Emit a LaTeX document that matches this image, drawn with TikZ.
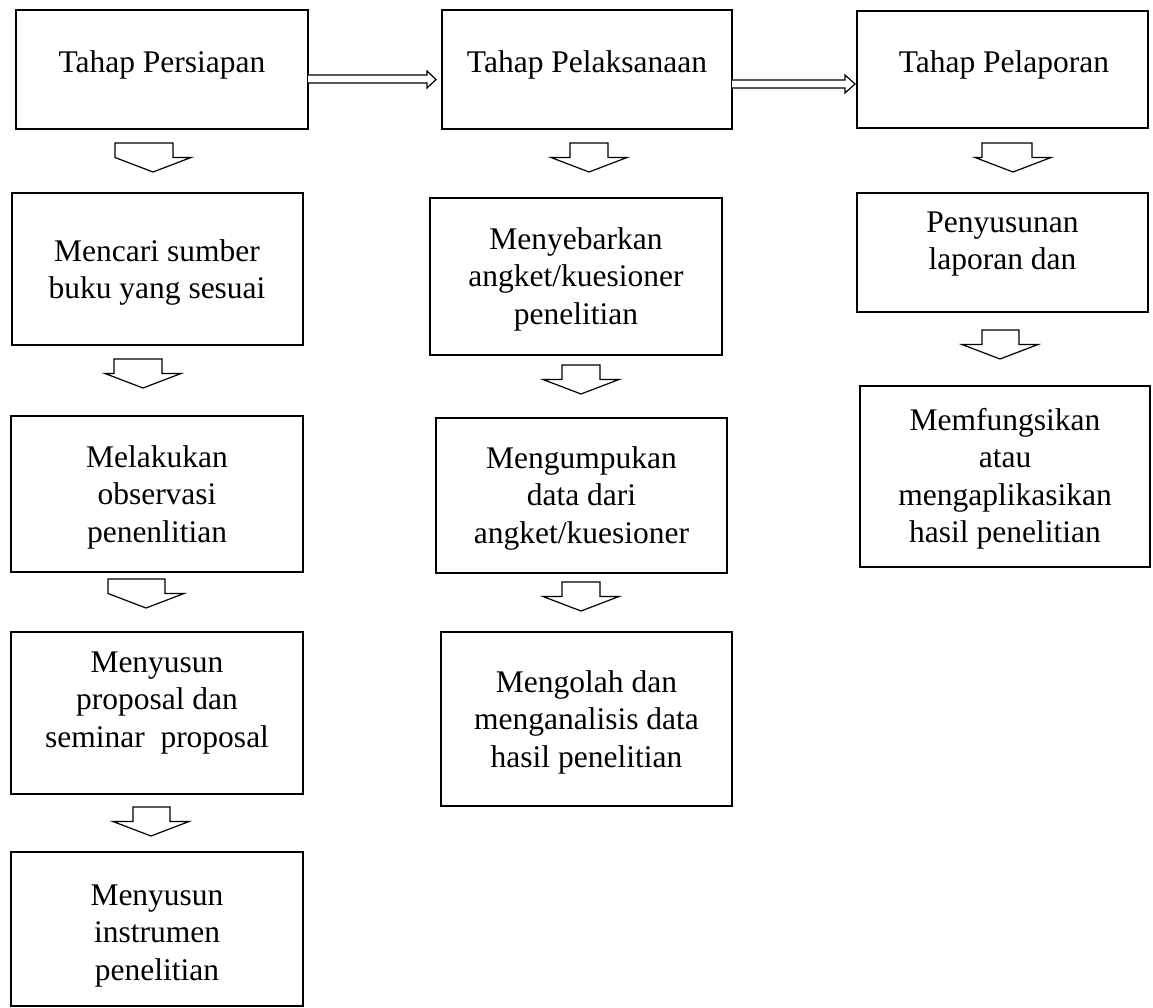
\documentclass[tikz,border=0pt]{standalone}
\usepackage{fontspec}
\setmainfont{Liberation Serif}
\newcommand{\mlines}[1]{\begin{tabular}[t]{@{}c@{}}#1\end{tabular}}
\newcommand{\mkbox}[5]{\node[box, minimum width={(#4)-(#2)}, minimum height={(#5)-(#3)}] (#1) at ({((#2)+(#4))/2},{((#3)+(#5))/2}) {};}
\newcommand{\blk}[4]{\draw[barrow] (#3,#2) -- (#4,#2) -- (#4,{#2+14.5}) -- ({#1+38},{#2+14.5}) -- (#1,{#2+29}) -- ({#1-38},{#2+14.5}) -- (#3,{#2+14.5}) -- cycle;}
\begin{document}
\begin{tikzpicture}[x=1pt,y=-1pt,
  box/.style={draw, line width=1.3pt, inner sep=0pt, outer sep=0pt},
  lbl/.style={inner sep=0pt, anchor=base, font=\fontsize{31.5}{37.5}\selectfont},
  barrow/.style={draw, line width=1.2pt, line join=miter, fill=white}]
\useasboundingbox (0,0) rectangle (1153,1007);
% boxes
\mkbox{A1}{16}{10}{308}{129}
\mkbox{A2}{12}{193}{303}{345}
\mkbox{A3}{11}{416}{303}{572}
\mkbox{A4}{11}{632}{303}{794}
\mkbox{A5}{11}{852}{303}{1006}
\mkbox{B1}{442}{10}{732}{129}
\mkbox{B2}{430}{198}{722}{355}
\mkbox{B3}{436}{418}{727}{573}
\mkbox{B4}{441}{632}{732}{806}
\mkbox{C1}{857}{11}{1148}{128}
\mkbox{C2}{857}{193}{1148}{312}
\mkbox{C3}{860}{386}{1150}{567}
% texts
\node[lbl] (tA1) at (162,72) {\mlines{Tahap Persiapan}};
\node[lbl] (tA2) at (157,261) {\mlines{Mencari sumber\\buku yang sesuai}};
\node[lbl] (tA3) at (157,467) {\mlines{Melakukan\\observasi\\penenlitian}};
\node[lbl] (tA4) at (157,672) {\mlines{Menyusun\\proposal dan\\seminar~ proposal}};
\node[lbl] (tA5) at (157,905) {\mlines{Menyusun\\instrumen\\penelitian}};
\node[lbl] (tB1) at (587,72) {\mlines{Tahap Pelaksanaan}};
\node[lbl] (tB2) at (576,249) {\mlines{Menyebarkan\\angket/kuesioner\\penelitian}};
\node[lbl] (tB3) at (581.5,468) {\mlines{Mengumpukan\\data dari\\angket/kuesioner}};
\node[lbl] (tB4) at (586.5,692) {\mlines{Mengolah dan\\menganalisis data\\hasil penelitian}};
\node[lbl] (tC1) at (1004,72) {\mlines{Tahap Pelaporan}};
\node[lbl] (tC2) at (1002.5,232) {\mlines{Penyusunan\\laporan dan}};
\node[lbl] (tC3) at (1005,430) {\mlines{Memfungsikan\\atau\\mengaplikasikan\\hasil penelitian}};
% horizontal hollow arrows
\draw[barrow] (308,75) -- (427,75) -- (427,71) -- (436,79.5) -- (427,88) -- (427,83) -- (308,83);
\draw[barrow] (732,80) -- (845,80) -- (845,75) -- (855,84) -- (845,93) -- (845,88) -- (732,88);
% down block arrows
\blk{153}{143}{115}{173}
\blk{143}{359}{114}{162}
\blk{146}{579}{108}{165}
\blk{151}{807}{133}{170}
\blk{589}{143}{570}{608}
\blk{581}{365}{562}{600}
\blk{581}{582}{562}{600}
\blk{1013}{143}{982}{1032}
\blk{1000}{330}{982}{1019}
\end{tikzpicture}
\end{document}
